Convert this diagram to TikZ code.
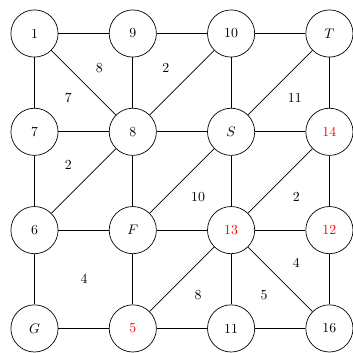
\documentclass[tikz,border=0pt]{standalone}
\begin{document}
\begin{tikzpicture}[
  vtx/.style={draw, circle, minimum size=1.2cm, inner sep=0pt, line width=0.5pt},
  hot/.style={vtx, text=red},
  wt/.style={inner sep=1pt},
  edge/.style={line width=0.5pt}
]
\useasboundingbox (-0.877,0.852) rectangle (8.10,-8.10);
% row 1
\node[vtx] (n1)  at (0,0)    {1};
\node[vtx] (n9)  at (2.5,0)  {9};
\node[vtx] (n10) at (5,0)    {10};
\node[vtx] (nT)  at (7.5,0)  {$T$};
% row 2
\node[vtx] (n7)  at (0,-2.5)   {7};
\node[vtx] (n8)  at (2.5,-2.5) {8};
\node[vtx] (nS)  at (5,-2.5)   {$S$};
\node[hot] (n14) at (7.5,-2.5) {14};
% row 3
\node[vtx] (n6)  at (0,-5)   {6};
\node[vtx] (nF)  at (2.5,-5) {$F$};
\node[hot] (n13) at (5,-5)   {13};
\node[hot] (n12) at (7.5,-5) {12};
% row 4
\node[vtx] (nG)  at (0,-7.5)   {$G$};
\node[hot] (n5)  at (2.5,-7.5) {5};
\node[vtx] (n11) at (5,-7.5)   {11};
\node[vtx] (n16) at (7.5,-7.5) {16};
% edges
\draw[edge] (n1) -- (n9);
\draw[edge] (n9) -- (n10);
\draw[edge] (n10) -- (nT);
\draw[edge] (n1) -- (n7);
\draw[edge] (n9) -- (n8);
\draw[edge] (n10) -- (nS);
\draw[edge] (nT) -- (n14);
\draw[edge] (n1) -- (n8);
\draw[edge] (n8) -- (n10);
\draw[edge] (nS) -- (nT);
\draw[edge] (n7) -- (n8);
\draw[edge] (n8) -- (nS);
\draw[edge] (nS) -- (n14);
\draw[edge] (n7) -- (n6);
\draw[edge] (n8) -- (nF);
\draw[edge] (nS) -- (n13);
\draw[edge] (n14) -- (n12);
\draw[edge] (n6) -- (n8);
\draw[edge] (nF) -- (nS);
\draw[edge] (n13) -- (n14);
\draw[edge] (n6) -- (nF);
\draw[edge] (nF) -- (n13);
\draw[edge] (n13) -- (n12);
\draw[edge] (n6) -- (nG);
\draw[edge] (nF) -- (n5);
\draw[edge] (n13) -- (n11);
\draw[edge] (n12) -- (n16);
\draw[edge] (n5) -- (n13);
\draw[edge] (n13) -- (n16);
\draw[edge] (nG) -- (n5);
\draw[edge] (n5) -- (n11);
\draw[edge] (n11) -- (n16);
% weights
\node[wt] (w1)  at (1.65,-0.88) {8};
\node[wt] (w2)  at (3.34,-0.87) {2};
\node[wt] (w3)  at (0.86,-1.65) {7};
\node[wt] (w4)  at (6.62,-1.64) {11};
\node[wt] (w5)  at (0.86,-3.33) {2};
\node[wt] (w6)  at (4.16,-4.16) {10};
\node[wt] (w7)  at (6.66,-4.16) {2};
\node[wt] (w8)  at (1.26,-6.24) {4};
\node[wt] (w9)  at (6.66,-5.83) {4};
\node[wt] (w10) at (4.16,-6.66) {8};
\node[wt] (w11) at (5.84,-6.66) {5};
\end{tikzpicture}
\end{document}
